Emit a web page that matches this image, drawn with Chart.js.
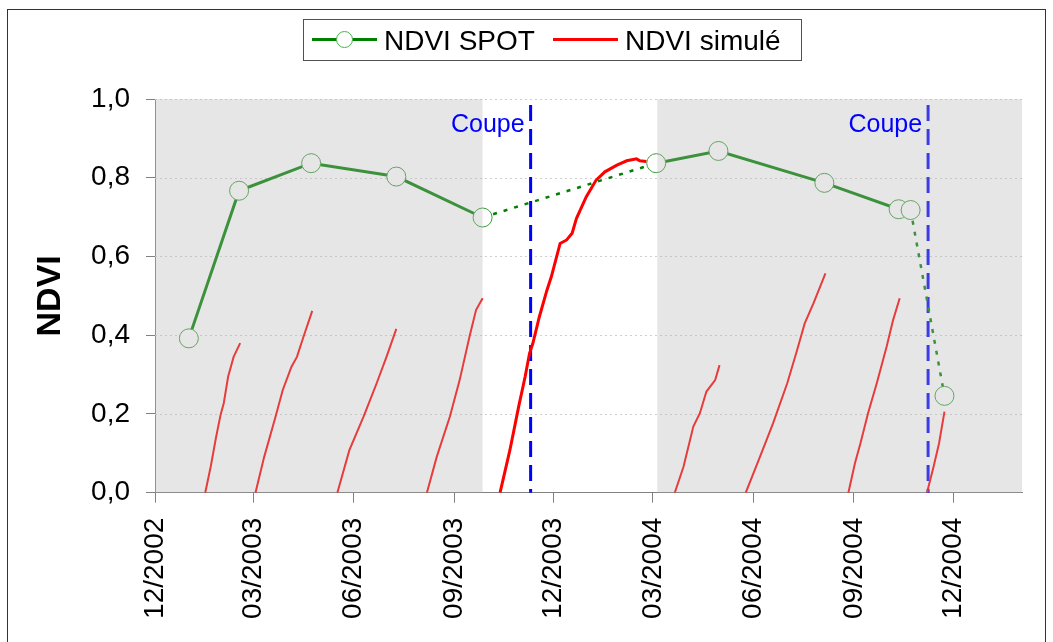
<!DOCTYPE html>
<html><head><meta charset="utf-8">
<script src="https://cdn.jsdelivr.net/npm/chart.js@4.4.1/dist/chart.umd.min.js"></script>
<style>
html,body{margin:0;padding:0;background:#fff;overflow:hidden;}
#wrap{position:relative;width:1053px;height:642px;}
#frame{position:absolute;left:7px;top:9px;width:1039px;height:700px;border:1px solid #333;box-sizing:border-box;pointer-events:none;}
canvas{position:absolute;left:0;top:0;}
</style></head><body>
<div id="wrap"><canvas id="c" width="1053" height="642"></canvas><div id="frame"></div></div>
<script>
// ---------- data ----------
const dayZero = '2002-12-01';          // origin of the time axis
const axisEnd = '2005-02-02';          // end of the time axis
const tickLabels = ['12/2002','03/2003','06/2003','09/2003','12/2003','03/2004','06/2004','09/2004','12/2004'];
const yTicks = [0, 0.2, 0.4, 0.6, 0.8, 1.0];

const spotLabel = 'NDVI SPOT';
const spotDates  = ['2003-01-01','2003-02-16','2003-04-23','2003-07-10','2003-09-27',
                    '2004-03-04','2004-04-30','2004-08-05','2004-10-12','2004-10-23','2004-11-23'];
const spotValues = [0.392, 0.767, 0.837, 0.803, 0.699, 0.837, 0.868, 0.787, 0.720, 0.718, 0.246];

const cutLabel = 'Coupe';
const cutDates = ['2003-11-10', '2004-11-08'];

const shadedPeriods = [['2002-12-01','2003-09-27'], ['2004-03-05','2005-02-02']];

// simulated NDVI runs: [day since dayZero, NDVI]
const simLabel = 'NDVI simulé';
const simRun1 = [[46,0],[51,0.066],[56,0.142],[60,0.197],[63,0.228],[67,0.295],[72,0.345],[78,0.380]];
const simRun2 = [[92,0],[100,0.091],[110,0.189],[117,0.261],[125,0.320],[130,0.345],[136,0.396],[144,0.462]];
const simRun3 = [[167,0],[178,0.108],[191,0.193],[203,0.278],[212,0.345],[221,0.416]];
const simRun4 = [[249,0],[258,0.091],[270,0.193],[279,0.286],[288,0.396],[294,0.464],[300,0.494]];
const simRun5 = [[316,0],[325,0.108],[333,0.218],[339,0.295],[343,0.354],[346,0.379],[352,0.447],[359,0.515],
                 [363,0.549],[371,0.633],[377,0.642],[382,0.659],[386,0.697],[395,0.752],[404,0.794],[412,0.815],
                 [423,0.832],[432,0.843],[441,0.848],[444,0.843],[450,0.841]];
const simRun6 = [[476,0],[484,0.066],[493,0.168],[499,0.202],[505,0.257],[513,0.286],[517,0.324]];
const simRun7 = [[541,0],[554,0.091],[566,0.176],[579,0.278],[588,0.362],[595,0.430],[603,0.481],[614,0.557]];
const simRun8 = [[635,0],[641,0.075],[646,0.125],[653,0.202],[661,0.278],[670,0.371],[676,0.439],[682,0.494]];
const simRun9 = [[707,0],[713,0.066],[718,0.125],[723,0.206]];
const simRuns = [simRun1, simRun2, simRun3, simRun4, simRun5, simRun6, simRun7, simRun8, simRun9];

// ---------- helpers ----------
function toDay(s) {
  const [y, m, d] = s.split('-').map(Number);
  const [y0, m0, d0] = dayZero.split('-').map(Number);
  return (Date.UTC(y, m - 1, d) - Date.UTC(y0, m0 - 1, d0)) / 86400000;
}
function labelToDay(l) { const [m, y] = l.split('/'); return toDay(y + '-' + m + '-01'); }

const spotData = spotDates.map((d, i) => ({x: toDay(d), y: spotValues[i]}));
const simData = [];
simRuns.forEach(run => {
  run.forEach(p => simData.push({x: p[0], y: p[1]}));
  simData.push({x: run[run.length - 1][0] + 0.5, y: null});
});
const cutDays = cutDates.map(toDay);
const shadedDays = shadedPeriods.map(([s, e]) => [toDay(s), toDay(e)]);
const crossesCut = (a, b) => cutDays.some(c => a < c && c < b);
const inShade = v => shadedDays.some(([s, e]) => v >= s && v <= e);

const FONT = "'Liberation Sans', Arial, sans-serif";

// ---------- plugins ----------
const decor = {
  id: 'decor',
  beforeDatasetsDraw(chart) {
    const {ctx, chartArea: a, scales: {x, y}} = chart;
    ctx.save();
    ctx.strokeStyle = '#cfcfcf'; ctx.lineWidth = 1; ctx.setLineDash([2, 3]);
    yTicks.forEach(v => {
      if (v === 0) return;
      const py = Math.round(y.getPixelForValue(v)) + 0.5;
      ctx.beginPath(); ctx.moveTo(a.left, py); ctx.lineTo(a.right, py); ctx.stroke();
    });
    ctx.strokeStyle = '#0000ff'; ctx.lineWidth = 3; ctx.setLineDash([16, 8]);
    cutDays.forEach(d => {
      const px = x.getPixelForValue(d);
      ctx.beginPath(); ctx.moveTo(px, y.getPixelForValue(0.985)); ctx.lineTo(px, a.bottom); ctx.stroke();
    });
    ctx.restore();
  },
  afterDatasetsDraw(chart) {
    const {ctx, chartArea: a, scales: {x}} = chart;
    ctx.save();
    ctx.fillStyle = 'rgba(180,180,180,0.333)';
    shadedDays.forEach(([s, e]) => {
      const x0 = Math.max(a.left, x.getPixelForValue(s));
      const x1 = Math.min(a.right, x.getPixelForValue(e));
      ctx.fillRect(x0, a.top, x1 - x0, a.bottom - a.top);
    });
    ctx.fillStyle = '#0000ff'; ctx.font = '25px ' + FONT;
    ctx.textAlign = 'right'; ctx.textBaseline = 'alphabetic';
    cutDays.forEach(d => ctx.fillText(cutLabel, x.getPixelForValue(d) - 6, a.top + 32.5));
    ctx.restore();
  },
  afterDraw(chart) {
    const {ctx} = chart;
    const ds = chart.data.datasets;
    ctx.save();
    ctx.strokeStyle = '#505050'; ctx.lineWidth = 1;
    ctx.strokeRect(303.5, 19.5, 498, 41);
    const cy = 39.5;
    ctx.lineWidth = 3; ctx.strokeStyle = '#008000';
    ctx.beginPath(); ctx.moveTo(312, cy); ctx.lineTo(377, cy); ctx.stroke();
    ctx.beginPath(); ctx.arc(344.5, cy, 8, 0, Math.PI * 2);
    ctx.fillStyle = '#fff'; ctx.fill(); ctx.lineWidth = 1; ctx.strokeStyle = '#4caf50'; ctx.stroke();
    ctx.lineWidth = 3; ctx.strokeStyle = '#ff0000';
    ctx.beginPath(); ctx.moveTo(553, cy); ctx.lineTo(618, cy); ctx.stroke();
    ctx.fillStyle = '#000'; ctx.font = '28px ' + FONT; ctx.textBaseline = 'alphabetic'; ctx.textAlign = 'left';
    ctx.fillText(ds[0].label, 384, 50);
    ctx.fillText(ds[1].label, 625, 50);
    ctx.restore();
  }
};

new Chart(document.getElementById('c'), {
  type: 'line',
  data: {
    datasets: [
      {
        label: spotLabel, data: spotData,
        borderColor: '#008000', borderWidth: 3,
        pointRadius: 9.5, pointHoverRadius: 9.5, pointBorderWidth: 1,
        pointBorderColor: '#3c9c3c', pointBackgroundColor: '#ffffff',
        segment: {
          borderDash: c => crossesCut(c.p0.parsed.x, c.p1.parsed.x) ? [4, 7] : undefined,
          borderWidth: c => crossesCut(c.p0.parsed.x, c.p1.parsed.x) ? 2.5 : undefined
        },
        tension: 0, order: 0
      },
      {
        label: simLabel, data: simData,
        borderColor: '#ff0000', borderWidth: 2.5, pointRadius: 0,
        segment: {
          borderWidth: c => inShade(c.p1.parsed.x) ? 2 : 3
        },
        spanGaps: false, tension: 0, order: 1
      }
    ]
  },
  options: {
    responsive: false, animation: false, devicePixelRatio: 1,
    layout: {padding: {top: 99, right: 31, left: 0, bottom: 0}},
    plugins: {legend: {display: false}, tooltip: {enabled: false}},
    events: [],
    scales: {
      x: {
        type: 'linear', min: 0, max: toDay(axisEnd), z: 1,
        afterBuildTicks: s => { s.ticks = tickLabels.map(l => ({value: labelToDay(l)})); },
        afterFit: s => { s.height = 149.3; },
        ticks: {
          autoSkip: false, maxRotation: 90, minRotation: 90, padding: 15,
          color: '#000', font: {family: FONT, size: 28},
          callback: (v, i) => tickLabels[i]
        },
        grid: {drawOnChartArea: false, drawTicks: true, tickLength: 10, tickColor: '#808080', tickWidth: 1},
        border: {color: '#808080', width: 1}
      },
      y: {
        type: 'linear', min: 0, max: 1, z: 1,
        afterBuildTicks: s => { s.ticks = yTicks.map(v => ({value: v})); },
        afterFit: s => { s.width = 155; },
        ticks: {
          padding: 16, color: '#000', font: {family: FONT, size: 28},
          callback: v => v.toFixed(1).replace('.', ',')
        },
        grid: {drawOnChartArea: false, drawTicks: true, tickLength: 9, tickColor: '#808080', tickWidth: 1},
        border: {color: '#808080', width: 1},
        title: {display: true, text: 'NDVI', color: '#000', font: {family: FONT, size: 34, weight: 'bold'}, padding: {top: 30, bottom: 0}}
      }
    }
  },
  plugins: [decor]
});
</script>
</body></html>
